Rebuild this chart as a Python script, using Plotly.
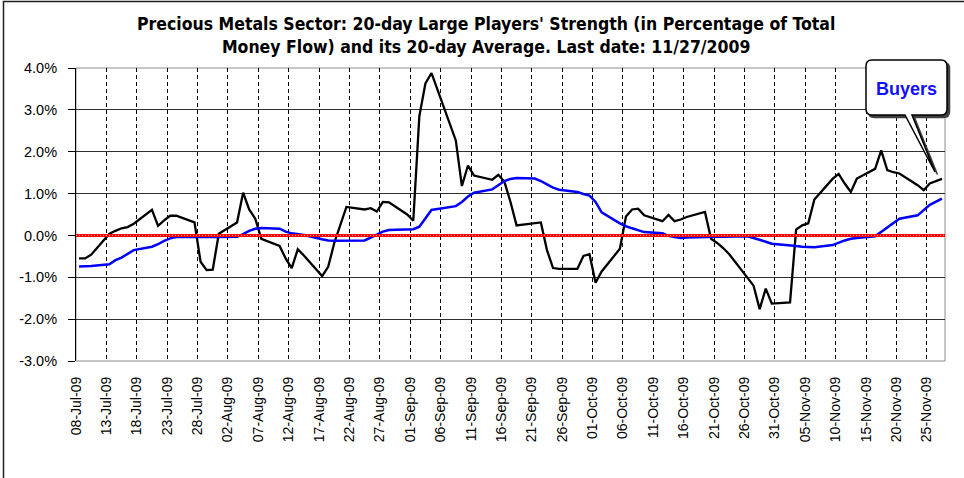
import pandas as pd
import plotly.graph_objects as go

# ---------------- data ----------------
dates = [
    "2009-07-08", "2009-07-09", "2009-07-10", "2009-07-13", "2009-07-14", "2009-07-15", "2009-07-16", "2009-07-17",
    "2009-07-20", "2009-07-21", "2009-07-22", "2009-07-23", "2009-07-24", "2009-07-27", "2009-07-28", "2009-07-29",
    "2009-07-30", "2009-07-31",
    "2009-08-03", "2009-08-04", "2009-08-05", "2009-08-06", "2009-08-07", "2009-08-10", "2009-08-11", "2009-08-12",
    "2009-08-13", "2009-08-14", "2009-08-17", "2009-08-18", "2009-08-19", "2009-08-20", "2009-08-21", "2009-08-24",
    "2009-08-25", "2009-08-26", "2009-08-27", "2009-08-28", "2009-08-31",
    "2009-09-01", "2009-09-02", "2009-09-03", "2009-09-04", "2009-09-08", "2009-09-09", "2009-09-10", "2009-09-11",
    "2009-09-14", "2009-09-15", "2009-09-16", "2009-09-17", "2009-09-18", "2009-09-21", "2009-09-22", "2009-09-23",
    "2009-09-24", "2009-09-25", "2009-09-28", "2009-09-29", "2009-09-30",
    "2009-10-01", "2009-10-02", "2009-10-05", "2009-10-06", "2009-10-07", "2009-10-08", "2009-10-09", "2009-10-12",
    "2009-10-13", "2009-10-14", "2009-10-15", "2009-10-16", "2009-10-19", "2009-10-20", "2009-10-21", "2009-10-22",
    "2009-10-23", "2009-10-26", "2009-10-27", "2009-10-28", "2009-10-29", "2009-10-30",
    "2009-11-02", "2009-11-03", "2009-11-04", "2009-11-05", "2009-11-06", "2009-11-09", "2009-11-10", "2009-11-11",
    "2009-11-12", "2009-11-13", "2009-11-16", "2009-11-17", "2009-11-18", "2009-11-19", "2009-11-20", "2009-11-23",
    "2009-11-24", "2009-11-25", "2009-11-27",
]

# 20-day Large Players' Strength (% of total money flow)
strength = [
    -0.55, -0.55, -0.46, 0.04, 0.11, 0.17, 0.20, 0.28, 0.61, 0.23, 0.36, 0.47, 0.47, 0.31, -0.63, -0.83, -0.82, 0.04,
    0.31, 1.02, 0.62, 0.40, -0.08, -0.25, -0.55, -0.78, -0.33, -0.48, -0.97, -0.75, -0.18, 0.27, 0.68, 0.62, 0.65,
    0.57, 0.80, 0.79, 0.50,
    0.35, 2.85, 3.63, 3.88, 2.27, 1.18, 1.67, 1.43, 1.33, 1.45, 1.28, 0.80, 0.24, 0.29, 0.31, -0.35, -0.78, -0.80,
    -0.80, -0.49, -0.45,
    -1.13, -0.86, -0.32, 0.45, 0.62, 0.64, 0.48, 0.34, 0.49, 0.34, 0.38, 0.44, 0.56, -0.08, -0.18, -0.30, -0.45,
    -1.02, -1.20, -1.76, -1.27, -1.63,
    -1.60, 0.14, 0.24, 0.29, 0.86, 1.35, 1.47, 1.24, 1.04, 1.36, 1.59, 2.03, 1.56, 1.51, 1.48, 1.20, 1.08, 1.24, 1.35,
]

# its 20-day average
average = [
    -0.74, -0.74, -0.73, -0.69, -0.59, -0.53, -0.44, -0.35, -0.27, -0.21, -0.13, -0.07, -0.04, -0.03, -0.03, -0.03,
    -0.03, -0.04,
    -0.03, 0.03, 0.11, 0.16, 0.18, 0.16, 0.09, 0.05, 0.03, 0.01, -0.09, -0.12, -0.13, -0.13, -0.13, -0.12, -0.05,
    0.03, 0.09, 0.13, 0.14,
    0.15, 0.21, 0.42, 0.61, 0.70, 0.80, 0.93, 1.02, 1.10, 1.20, 1.30, 1.35, 1.37, 1.36, 1.30, 1.22, 1.14, 1.09,
    1.04, 0.99, 0.95,
    0.80, 0.55, 0.29, 0.22, 0.17, 0.12, 0.08, 0.05, -0.01, -0.04, -0.06, -0.05, -0.03, -0.03, -0.03, -0.03, -0.03,
    -0.02, -0.06, -0.10, -0.15, -0.20,
    -0.23, -0.25, -0.27, -0.28, -0.28, -0.23, -0.17, -0.12, -0.08, -0.06, -0.02, 0.08, 0.18, 0.28, 0.40, 0.48, 0.60,
    0.73, 0.88,
]

tick_labels = [
    "08-Jul-09", "13-Jul-09", "18-Jul-09", "23-Jul-09", "28-Jul-09", "02-Aug-09", "07-Aug-09", "12-Aug-09",
    "17-Aug-09", "22-Aug-09", "27-Aug-09", "01-Sep-09", "06-Sep-09", "11-Sep-09", "16-Sep-09", "21-Sep-09",
    "26-Sep-09", "01-Oct-09", "06-Oct-09", "11-Oct-09", "16-Oct-09", "21-Oct-09", "26-Oct-09", "31-Oct-09",
    "05-Nov-09", "10-Nov-09", "15-Nov-09", "20-Nov-09", "25-Nov-09",
]
y_ticks = [-3, -2, -1, 0, 1, 2, 3, 4]
y_tick_text = ["-3.0%", "-2.0%", "-1.0%", "0.0%", "1.0%", "2.0%", "3.0%", "4.0%"]

title_text = ("Precious Metals Sector: 20-day Large Players' Strength (in Percentage of Total<br>"
              "Money Flow) and its 20-day Average. Last date: 11/27/2009")
callout_text = "Buyers"

# ---------------- layout helpers ----------------
W, H = 964, 478
L, R, T, B = 76, 19, 68, 117
PW, PH = W - L - R, H - T - B


def px(x, y):
    return (x - L) / PW, (H - B - y) / PH


def path(points, close=True):
    s = ""
    for k, p in enumerate(points):
        if p[0] == "Q":
            c = px(*p[1]); e = px(*p[2])
            s += f" Q {c[0]:.5f},{c[1]:.5f} {e[0]:.5f},{e[1]:.5f}"
        else:
            q = px(*p)
            s += (" M " if k == 0 else " L ") + f"{q[0]:.5f},{q[1]:.5f}"
    return s + (" Z" if close else "")


# x positions: points at day centres, ticks at day boundaries
xd = pd.to_datetime(dates)
tick_dates = pd.to_datetime(tick_labels, format="%d-%b-%y") - pd.Timedelta(hours=12)
x_range = [xd[0] - pd.Timedelta(hours=12), xd[-1] + pd.Timedelta(hours=12)]

fig = go.Figure()
fig.add_trace(go.Scatter(x=xd, y=strength, mode="lines", line=dict(color="black", width=2.3),
                         name="Strength", hoverinfo="x+y"))
fig.add_trace(go.Scatter(x=xd, y=average, mode="lines", line=dict(color="#0000FF", width=2.5),
                         name="20-day Average", hoverinfo="x+y"))

shapes = []
# plot-area border (gray)
shapes.append(dict(type="rect", xref="paper", yref="paper", x0=0, y0=0, x1=1, y1=1,
                   line=dict(color="#8c8c8c", width=1), layer="below"))
# red zero line, drawn as a chain of small circles
shapes.append(dict(type="line", xref="paper", yref="y", x0=0, x1=1, y0=0, y1=0,
                   line=dict(color="#FF0000", width=3)))
shapes.append(dict(type="line", xref="paper", yref="y", x0=0, x1=1, y0=0, y1=0,
                   line=dict(color="#FFB0B0", width=1, dash="1px,2px")))

# outer frame of the chart (left and top)
shapes.append(dict(type="path", xref="paper", yref="paper",
                   path=path([(3.5, 480), (3.5, 1.5), (970, 1.5)], close=False),
                   line=dict(color="#202020", width=1.5)))

# callout box with pointer
bx0, by0, bx1, by1, r = 866, 60, 947, 115, 6
tip = (935, 172)
pl, pr = 905, 912


def callout(dx=0, dy=0):
    return path([
        (bx0 + r + dx, by0 + dy), (bx1 - r + dx, by0 + dy), ("Q", (bx1 + dx, by0 + dy), (bx1 + dx, by0 + r + dy)),
        (bx1 + dx, by1 - r + dy), ("Q", (bx1 + dx, by1 + dy), (bx1 - r + dx, by1 + dy)),
        (pr + dx, by1 + dy), (tip[0] + dx, tip[1] + dy), (pl + dx, by1 + dy),
        (bx0 + r + dx, by1 + dy), ("Q", (bx0 + dx, by1 + dy), (bx0 + dx, by1 - r + dy)),
        (bx0 + dx, by0 + r + dy), ("Q", (bx0 + dx, by0 + dy), (bx0 + r + dx, by0 + dy)),
    ])


shapes.append(dict(type="path", xref="paper", yref="paper", path=callout(2.5, 2.5),
                   fillcolor="#404040", line=dict(color="#404040", width=1.5)))
shapes.append(dict(type="path", xref="paper", yref="paper", path=callout(),
                   fillcolor="white", line=dict(color="black", width=1.5)))

cx, cy = px((bx0 + bx1) / 2, (by0 + by1) / 2 + 1)
tx, ty = px(486, 36)
annotations = [
    dict(xref="paper", yref="paper", x=cx, y=cy, text=f"<b>{callout_text}</b>", showarrow=False,
         font=dict(family="Liberation Sans, Arial, sans-serif", size=18, color="#1010FF"),
         xanchor="center", yanchor="middle"),
    dict(xref="paper", yref="paper", x=tx, y=ty, text=f"<b>{title_text}</b>", showarrow=False,
         xanchor="center", yanchor="middle", align="center",
         font=dict(family="Liberation Sans Narrow, Arial Narrow, DejaVu Sans Condensed, sans-serif",
                   size=17.5, color="black")),
]

x_font = dict(family="Liberation Sans, Arial, sans-serif", size=14, color="black")
y_font = dict(family="Liberation Sans, Arial, sans-serif", size=14.5, color="black")

fig.update_layout(
    width=W, height=H,
    margin=dict(l=L, r=R, t=T, b=B, pad=0, autoexpand=False),
    paper_bgcolor="white", plot_bgcolor="white",
    showlegend=False,
    xaxis=dict(type="date", range=x_range, tickmode="array", tickvals=tick_dates, ticktext=tick_labels,
               tickangle=-90, tickfont=x_font, ticks="", ticklabelstandoff=12, automargin=False,
               showgrid=True, gridcolor="black", gridwidth=1, griddash="4px,3px",
               showline=False, zeroline=False),
    yaxis=dict(range=[-3, 4], tickmode="array", tickvals=y_ticks, ticktext=y_tick_text,
               tickfont=y_font, ticks="outside", ticklen=7, tickcolor="black", ticklabelstandoff=8,
               automargin=False,
               showgrid=True, gridcolor="#303030", gridwidth=1,
               showline=True, linecolor="black", linewidth=1, zeroline=False),
    shapes=shapes,
    annotations=annotations,
)

fig.write_html("out.html", config={"displayModeBar": False},
               post_script="document.body.style.margin='0';document.body.style.overflow='hidden';")
